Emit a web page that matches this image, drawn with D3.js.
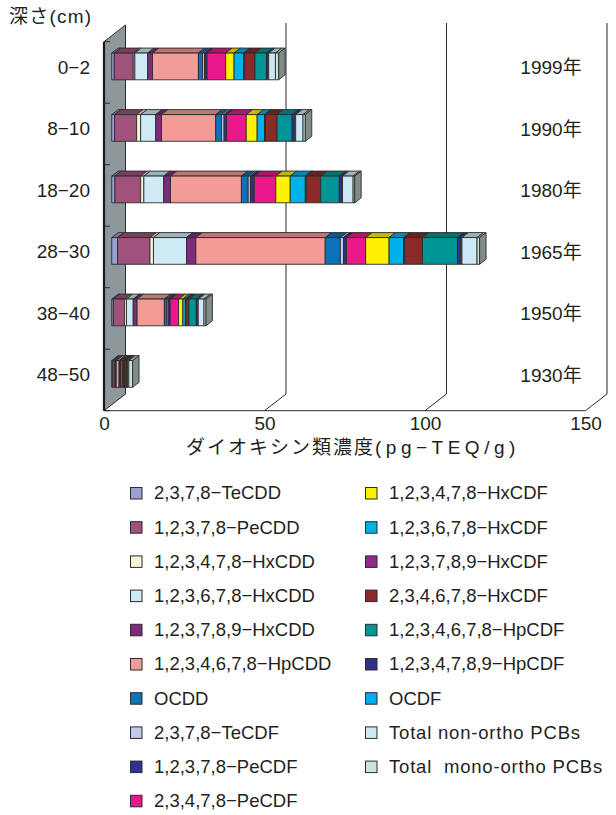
<!DOCTYPE html>
<html>
<head>
<meta charset="utf-8">
<script src="https://cdn.jsdelivr.net/npm/d3@7"></script>
<style>
  html, body { margin: 0; padding: 0; background: #fff; }
  svg { display: block; font-family: "Liberation Sans", "Noto Sans CJK JP", sans-serif; }
  text { fill: #231f20; }
</style>
</head>
<body>
<svg id="chart" width="616" height="815"></svg>
<script>
// Sediment core depths (cm) and the deposition year of each layer
const categories = ["0−2", "8−10", "18−20", "28−30", "38−40", "48−50"];
const years = ["1999年", "1990年", "1980年", "1965年", "1950年", "1930年"];

// Congeners, in stacking order
const seriesNames = [
  "2,3,7,8−TeCDD", "1,2,3,7,8−PeCDD", "1,2,3,4,7,8−HxCDD", "1,2,3,6,7,8−HxCDD",
  "1,2,3,7,8,9−HxCDD", "1,2,3,4,6,7,8−HpCDD", "OCDD", "2,3,7,8−TeCDF",
  "1,2,3,7,8−PeCDF", "2,3,4,7,8−PeCDF", "1,2,3,4,7,8−HxCDF", "1,2,3,6,7,8−HxCDF",
  "1,2,3,7,8,9−HxCDF", "2,3,4,6,7,8−HxCDF", "1,2,3,4,6,7,8−HpCDF", "1,2,3,4,7,8,9−HpCDF",
  "OCDF", "Total non-ortho PCBs", "Total  mono-ortho PCBs"
];
const seriesColors = [
  "#9aa0d2", "#a0527c", "#f7f3d6", "#cdeaf5",
  "#7e2b7e", "#f39c97", "#0b72bb", "#c3c9e8",
  "#2e3192", "#e9198c", "#fff200", "#00b2e8",
  "#92278f", "#8b2a26", "#009595", "#2e3192",
  "#00aeef", "#cce9f5", "#cde4d6"
];

// TEQ (pg-TEQ/g) per congener, one array per depth
const depth0_2   = [0.8, 5.9, 0.5, 4.0, 1.5, 14.3, 1.3, 0.6, 0.8, 5.8, 2.6, 3.0, 0.3, 3.2, 3.6, 0.4, 0.3, 2.1, 1.0];
const depth8_10  = [0.9, 6.85, 1.25, 4.7, 1.8, 16.9, 1.8, 0.8, 0.8, 6.1, 3.4, 2.3, 0.3, 3.6, 4.7, 0.8, 0.3, 2.3, 0.7];
const depth18_20 = [1.0, 8.0, 1.0, 6.2, 2.1, 22.1, 2.1, 0.7, 1.2, 6.7, 4.5, 4.7, 0.3, 4.5, 5.8, 0.7, 0.3, 3.3, 0.5];
const depth28_30 = [1.8, 10.1, 1.1, 10.3, 2.9, 40.3, 4.7, 1.0, 0.9, 6.0, 7.3, 4.5, 0.3, 5.6, 10.9, 1.0, 0.4, 4.7, 0.8];
const depth38_40 = [0.5, 3.5, 0.6, 2.1, 1.2, 8.5, 0.8, 0.4, 0.6, 2.6, 1.35, 0.8, 0.2, 0.9, 2.3, 0.3, 0.3, 1.8, 0.6];
const depth48_50 = [0.2, 0.6, 0.1, 0.3, 0.2, 0.9, 0.2, 0.1, 0.2, 0.6, 0.2, 0.2, 0.1, 0.3, 0.5, 0.1, 0.1, 0.4, 1.2];

const xTicks = [0, 50, 100, 150];

const byDepth = [depth0_2, depth8_10, depth18_20, depth28_30, depth38_40, depth48_50];
const rows = categories.map((c, i) => {
  const r = { cat: c };
  seriesNames.forEach((s, j) => { r[s] = byDepth[i][j]; });
  return r;
});
const stacked = d3.stack().keys(seriesNames)(rows);

const svg = d3.select("#chart");
const ink = "#2b2b2b";

// Oblique 3D projection: depth vector of the plot box
const DX = 21.5, DY = -16.7;
const F0 = 0.36, F1 = 0.66;           // front / back depth of the bars
const x = d3.scaleLinear().domain([0, 150]).range([104, 585.5]);
const y = d3.scaleBand().domain(categories).range([41.7, 410.7])
  .paddingInner(0.566).paddingOuter(0.283);
const yTop = y.range()[0], yBot = y.range()[1];

// Left side wall
const wall = svg.append("g");
wall.append("polygon")
  .attr("points", [[x(0), yTop], [x(0) + DX, yTop + DY], [x(0) + DX, yBot + DY], [x(0), yBot]].join(" "))
  .attr("fill", "#8e979c").attr("stroke", ink).attr("stroke-width", 1);
wall.append("line")
  .attr("x1", x(0)).attr("x2", x(0)).attr("y1", yTop).attr("y2", yBot)
  .attr("stroke", "#1a1a1a").attr("stroke-width", 2.2);
// category boundary ticks on the wall
wall.selectAll("line.tick").data(d3.range(categories.length + 1)).join("line")
  .attr("class", "tick")
  .attr("x1", x(0)).attr("x2", x(0) + 6)
  .attr("y1", i => yTop + i * y.step()).attr("y2", i => yTop + i * y.step())
  .attr("stroke", ink).attr("stroke-width", 1);

// Back gridlines with their floor diagonals
const grid = svg.append("g").attr("stroke", ink).attr("stroke-width", 1).attr("fill", "none");
grid.selectAll("path").data(xTicks.slice(1)).join("path")
  .attr("d", v => `M${x(v) + DX},${yTop + DY - 2}V${yBot + DY}L${x(v)},${yBot}`);
grid.append("line")
  .attr("x1", x(0)).attr("x2", x(150)).attr("y1", yBot).attr("y2", yBot);

// Stacked 3D bars
const bdx = DX * (F1 - F0), bdy = DY * (F1 - F0);
const barsG = svg.append("g").attr("stroke", ink).attr("stroke-width", 0.9).attr("stroke-linejoin", "round");
categories.forEach((cat, ci) => {
  const top = y(cat) + DY * F0;
  const h = y.bandwidth();
  const g = barsG.append("g");
  const segs = stacked.map((layer, si) => ({
    x0: x(layer[ci][0]) + DX * F0,
    x1: x(layer[ci][1]) + DX * F0,
    color: seriesColors[si]
  }));
  // top faces
  g.selectAll("polygon.top").data(segs).join("polygon")
    .attr("class", "top")
    .attr("points", d => [[d.x0, top], [d.x1, top], [d.x1 + bdx, top + bdy], [d.x0 + bdx, top + bdy]].join(" "))
    .attr("fill", d => d3.color(d.color).darker(0.75));
  // front faces
  g.selectAll("rect.front").data(segs).join("rect")
    .attr("class", "front")
    .attr("x", d => d.x0).attr("y", top)
    .attr("width", d => d.x1 - d.x0).attr("height", h)
    .attr("fill", d => d.color);
  // end face
  const last = segs[segs.length - 1];
  g.append("polygon")
    .attr("points", [[last.x1, top], [last.x1 + bdx, top + bdy], [last.x1 + bdx, top + h + bdy], [last.x1, top + h]].join(" "))
    .attr("fill", d3.color(last.color).darker(1.35));
});

// Value axis labels
const xAxis = svg.append("g")
  .attr("transform", `translate(0,${yBot})`)
  .call(d3.axisBottom(x).tickValues(xTicks).tickFormat(d3.format("d")).tickSize(0).tickPadding(6));
xAxis.select(".domain").remove();
xAxis.selectAll("text").attr("font-size", 19).attr("font-family", null).attr("fill", "#231f20");

// Depth labels
const yAxis = svg.append("g")
  .attr("transform", `translate(90,${DY * 0.29})`)
  .call(d3.axisLeft(y).tickSize(0).tickPadding(0));
yAxis.select(".domain").remove();
yAxis.selectAll("text").attr("font-size", 19).attr("font-family", null).attr("fill", "#231f20");

// Year of each layer
svg.append("g").selectAll("text").data(categories).join("text")
  .attr("x", 551)
  .attr("y", (c) => y(c) + y.bandwidth() / 2 + DY * 0.29)
  .attr("dy", "0.35em")
  .attr("text-anchor", "middle")
  .attr("font-size", 19)
  .text((c, i) => years[i]);

// Axis titles
svg.append("text").attr("x", 9).attr("y", 23).attr("font-size", 19)
  .attr("letter-spacing", 1.2).text("深さ(cm)");
const title = svg.append("text").attr("x", 186).attr("y", 454).attr("font-size", 19);
title.append("tspan").attr("letter-spacing", 2).text("ダイオキシン類濃度");
title.append("tspan").attr("letter-spacing", 4.5).text("(pg−TEQ/g)");

// Legend
const legendRows = 10, legendStep = 34.2;
const legend = svg.append("g");
const items = legend.selectAll("g").data(seriesNames).join("g")
  .attr("transform", (d, i) => {
    const col = Math.floor(i / legendRows), row = i % legendRows;
    return `translate(${col === 0 ? 130 : 365},${493 + row * legendStep})`;
  });
items.append("rect")
  .attr("x", 0.5).attr("y", -5.5).attr("width", 11.5).attr("height", 11.5)
  .attr("fill", (d, i) => seriesColors[i]).attr("stroke", ink).attr("stroke-width", 1);
items.append("text")
  .attr("x", 24).attr("dy", "0.35em")
  .attr("font-size", 18.5)
  .attr("letter-spacing", d => d.startsWith("Total") ? 0.8 : 0)
  .style("white-space", "pre")
  .text(d => d);
</script>
</body>
</html>
